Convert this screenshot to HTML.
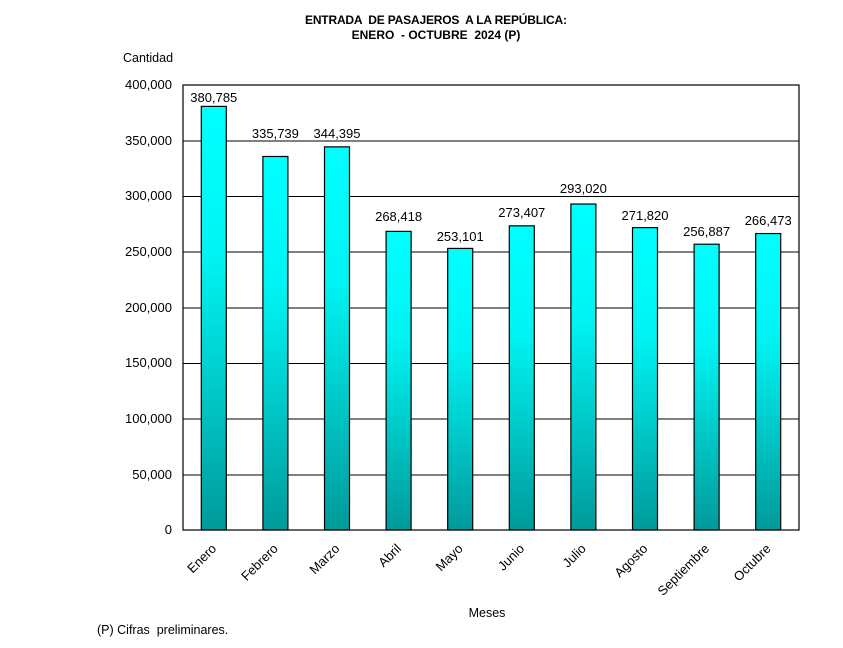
<!DOCTYPE html>
<html><head><meta charset="utf-8"><style>body{margin:0;background:#fff}svg{display:block}</style></head><body>
<svg width="843" height="648" xmlns="http://www.w3.org/2000/svg" font-family="Liberation Sans, Arial, sans-serif">
<defs><linearGradient id="g" x1="0" y1="0" x2="0" y2="1"><stop offset="0" stop-color="#00ffff"/><stop offset="0.35" stop-color="#00f4f4"/><stop offset="1" stop-color="#009a9a"/></linearGradient></defs>
<rect width="843" height="648" fill="#fff"/>
<text x="436" y="24" font-size="12" font-weight="bold" text-anchor="middle" style="white-space:pre" textLength="262">ENTRADA  DE PASAJEROS  A LA REPÚBLICA:</text>
<text x="436" y="39" font-size="12" font-weight="bold" text-anchor="middle" style="white-space:pre">ENERO  - OCTUBRE  2024 (P)</text>
<text x="123" y="62" font-size="12.5">Cantidad</text>
<g stroke="#000" stroke-width="1">
<line x1="183" y1="141" x2="799" y2="141"/><line x1="183" y1="196.5" x2="799" y2="196.5"/><line x1="183" y1="252" x2="799" y2="252"/><line x1="183" y1="308" x2="799" y2="308"/><line x1="183" y1="363.5" x2="799" y2="363.5"/><line x1="183" y1="419" x2="799" y2="419"/><line x1="183" y1="475" x2="799" y2="475"/>
</g>
<g font-size="13" text-anchor="end">
<text x="172" y="89">400,000</text><text x="172" y="145">350,000</text><text x="172" y="200">300,000</text><text x="172" y="256">250,000</text><text x="172" y="312">200,000</text><text x="172" y="367">150,000</text><text x="172" y="423">100,000</text><text x="172" y="479">50,000</text><text x="172" y="534">0</text>
</g>
<g id="bars" stroke="#000" stroke-width="1.2" fill="url(#g)"></g>
<rect x="183" y="85" width="616" height="445" fill="none" stroke="#000" stroke-width="1.2"/>
<g id="lbl" font-size="13" text-anchor="middle"></g>
<g id="xl" font-size="13" text-anchor="end"></g>
<text x="487" y="617" font-size="12.5" text-anchor="middle">Meses</text>
<text x="97" y="634" font-size="12.5" style="white-space:pre">(P) Cifras  preliminares.</text>
<script>
var v=[380785,335739,344395,268418,253101,273407,293020,271820,256887,266473];
var ly=[97,133,133,216,236,212,188,215,231,220];
var m=["Enero","Febrero","Marzo","Abril","Mayo","Junio","Julio","Agosto","Septiembre","Octubre"];
var ns="http://www.w3.org/2000/svg",b=document.getElementById("bars"),l=document.getElementById("lbl"),xl=document.getElementById("xl");
for(var i=0;i<10;i++){var cx=183+61.6*(i+0.5),y=530-v[i]*445/400000;
var r=document.createElementNS(ns,"rect");r.setAttribute("x",cx-12.5);r.setAttribute("y",y);r.setAttribute("width",25);r.setAttribute("height",530-y);b.appendChild(r);
var t=document.createElementNS(ns,"text");t.setAttribute("x",cx);t.setAttribute("y",ly[i]+5);t.textContent=v[i].toLocaleString("en-US");l.appendChild(t);
var u=document.createElementNS(ns,"text");u.setAttribute("transform","translate("+(cx-3)+",543) rotate(-45)");u.setAttribute("y",9);u.textContent=m[i];xl.appendChild(u);}
</script>
</svg>
</body></html>
